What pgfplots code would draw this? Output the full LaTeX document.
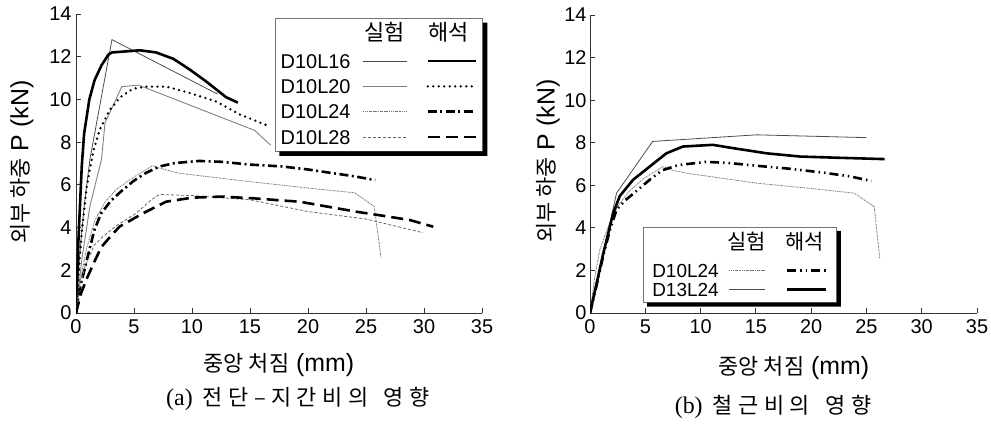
\documentclass[border=0pt]{standalone}
\usepackage{fontspec}
\setmainfont{Liberation Sans}
\newfontfamily\kr{Noto Sans CJK KR}
\newfontfamily\rmserif{Liberation Serif}
\usepackage{pgfplots}
\pgfplotsset{compat=1.18}

\def\spaced#1{\spacedi#1\relax}
\def\spacedi#1{\ifx#1\relax\else#1\hspace{5.5bp}\expandafter\spacedi\fi}

\pgfplotsset{
  exp16/.style={black!70, line width=0.8bp},
  exp20/.style={black!50, line width=0.9bp},
  exp24/.style={black!55, line width=0.8bp, dash pattern=on 1.5bp off 0.8bp on 0.6bp off 0.8bp},
  exp28/.style={black!60, line width=0.8bp, dash pattern=on 3bp off 2bp},
  ana16/.style={black, line width=2.6bp},
  ana20/.style={black, line width=2.6bp, line cap=round, dash pattern=on 0bp off 5.5bp},
  ana24/.style={black, line width=2.6bp, dash pattern=on 9bp off 3.5bp on 2bp off 3.5bp},
  ana24b/.style={black, line width=2.6bp, dash pattern=on 9bp off 4bp on 1.5bp off 4bp on 1.5bp off 4bp},
  ana28/.style={black, line width=2.6bp, dash pattern=on 12bp off 6bp},
  lexpA/.style={legend image code/.code={\draw[fill=none,##1] (0bp,0bp) -- (44bp,0bp);}},
  lanaA/.style={legend image code/.code={\draw[fill=none,##1] (0bp,0bp) -- (48bp,0bp);}},
  lexpB/.style={legend image code/.code={\draw[fill=none,##1] (0bp,0bp) -- (36bp,0bp);}},
  lanaB/.style={legend image code/.code={\draw[fill=none,##1] (0bp,0bp) -- (39bp,0bp);}},
  common/.style={
    scale only axis,
    axis lines*=left,
    xmin=0, xmax=35, ymin=0, ymax=14,
    xtick={0,5,...,35}, ytick={0,2,...,14},
    tick align=inside,
    major tick length=5bp,
    axis line style={black!80, line width=0.8bp},
    tick style={black!80, line width=0.8bp},
    ticklabel style={font=\fontsize{20}{24}\selectfont},
    /pgf/number format/assume math mode=true,
    label style={font=\fontsize{25}{28}\selectfont},
    legend cell align=left,
    legend plot pos=right,
    legend columns=2,
  },
}

\begin{document}
\begin{tikzpicture}[x=1bp,y=1bp]
\path[use as bounding box] (0,0) rectangle (991,428);

% ---------------- (a) ----------------
\begin{axis}[common,
  at={(76bp,115bp)}, anchor=south west,
  width=406bp, height=299bp,
  yticklabel style={xshift=-1bp},
  xticklabel style={yshift=-3.5bp},
  xlabel={{\kr\fontsize{22}{26}\selectfont 중앙 처짐} (mm)},
  ylabel={{\kr\fontsize{22}{26}\selectfont 외부 하중} P (kN)},
  xlabel style={at={(axis description cs:0.5,-0.174)}, anchor=center},
  ylabel style={at={(axis description cs:-0.133,0.505)}, anchor=center},
  legend style={name=legA, at={(axis description cs:0.490,0.9866)}, anchor=north west,
    draw=black!55, line width=0.6bp, fill=white,
    inner xsep=5.5bp, inner ysep=2bp, row sep=1.3bp, column sep=0bp,
    /tikz/column 1/.style={column sep=12bp},
    /tikz/column 2/.style={column sep=18bp},
    /tikz/column 3/.style={column sep=0bp},
    nodes={inner xsep=0bp, inner ysep=0bp, text height=19bp, text depth=5bp,
      font=\fontsize{20}{24}\selectfont}},
]
\addlegendimage{legend image code/.code={\path[draw=none,fill=none] (0bp,-14.5bp) rectangle (44bp,13bp);
  \pgftext[base,at={\pgfqpoint{22bp}{-7bp}}]{\kr\fontsize{22}{26}\selectfont 실험}}}
\addlegendentry{}
\addlegendimage{legend image code/.code={\path[draw=none,fill=none] (0bp,-14.5bp) rectangle (48bp,13bp);
  \pgftext[base,at={\pgfqpoint{21bp}{-7bp}}]{\kr\fontsize{22}{26}\selectfont 해석}}}
\addlegendentry{}

\addplot[exp16, lexpA] coordinates {(0,0) (0.3,2.6) (0.7,5.0) (1.2,7.2) (3.1,12.8) (12.2,10.25)};
\addlegendentry{D10L16}
\addplot[ana16, lanaA] coordinates {(0,0) (0.23,3.7) (0.5,6.9) (0.7,8.4) (1.15,10.0) (1.6,10.9) (2.2,11.6) (2.8,12.1) (3.1,12.2) (4.35,12.25) (5.5,12.3) (6.9,12.2) (8.4,11.9) (9.8,11.4) (11.2,10.85) (12.95,10.1) (13.95,9.85)};
\addlegendentry{}
\addplot[exp20, lexpA] coordinates {(0,0) (0.5,2.5) (1.2,5.0) (2.2,7.2) (2.5,8.9) (3.95,10.6) (5.4,10.67) (15.4,8.55) (16.8,7.85)};
\addlegendentry{D10L20}
\addplot[ana20, lanaA] coordinates {(0,0) (0.25,2.0) (0.49,3.74) (0.92,5.9) (1.5,7.6) (2.06,8.6) (2.9,9.5) (3.8,10.1) (4.9,10.5) (6.1,10.6) (7.8,10.6) (9.8,10.3) (12.1,9.9) (14.1,9.3) (16.4,8.8)};
\addlegendentry{}
\addplot[exp24, lexpA] coordinates {(0,0) (0.4,1.6) (0.9,3.0) (1.6,4.3) (2.5,5.2) (3.5,5.8) (4.8,6.3) (6.6,6.9) (7.1,6.8) (8.8,6.55) (15,6.15) (20,5.85) (24,5.63) (25.7,5.0) (26.3,2.6)};
\addlegendentry{D10L24}
\addplot[ana24, lanaA] coordinates {(0,0) (0.3,1.1) (0.72,2.0) (1.15,2.95) (1.58,3.88) (2.16,4.66) (3.0,5.25) (3.9,5.7) (5.0,6.2) (6.0,6.55) (7.2,6.86) (8.5,7.02) (10.6,7.12) (12.5,7.08) (15,6.95) (17.8,6.86) (20,6.72) (22.1,6.55) (24,6.4) (25.8,6.22)};
\addlegendentry{}
\addplot[exp28, lexpA] coordinates {(0,0) (0.3,1.2) (0.8,2.2) (1.15,2.64) (1.58,3.18) (2.3,3.57) (3.5,4.1) (5.17,4.66) (6.5,5.3) (7.2,5.55) (10,5.5) (15,5.3) (20,4.75) (25,4.4) (29.9,3.76)};
\addlegendentry{D10L28}
\addplot[ana28, lanaA] coordinates {(0,0) (0.43,0.92) (1.0,1.7) (1.72,2.56) (2.2,3.1) (3.0,3.6) (3.74,4.04) (5.75,4.66) (7.76,5.21) (10,5.4) (12.5,5.45) (15.3,5.37) (17.5,5.28) (19.3,5.21) (22,4.95) (24.2,4.74) (26.5,4.55) (28.8,4.35) (30.8,4.04)};
\addlegendentry{}
\end{axis}
\fill[black] ([xshift=4.5bp]legA.south west) -- ([xshift=4.5bp,yshift=-4.5bp]legA.south west)
  -- ([xshift=4.5bp,yshift=-4.5bp]legA.south east) -- ([xshift=4.5bp,yshift=-4.5bp]legA.north east)
  -- ([yshift=-4.5bp]legA.north east) -- (legA.south east) -- cycle;

% ---------------- (b) ----------------
\begin{axis}[common,
  at={(590bp,115bp)}, anchor=south west,
  width=387bp, height=298bp,
  yticklabel style={xshift=0bp},
  xticklabel style={yshift=-3.5bp},
  xlabel={{\kr\fontsize{22}{26}\selectfont 중앙 처짐} (mm)},
  ylabel={{\kr\fontsize{22}{26}\selectfont 외부 하중} P (kN)},
  xlabel style={at={(axis description cs:0.527,-0.1846)}, anchor=center},
  ylabel style={at={(axis description cs:-0.1085,0.51)}, anchor=center},
  legend style={name=legB, at={(axis description cs:0.137,0.2886)}, anchor=north west,
    draw=black!55, line width=0.6bp, fill=white,
    inner xsep=9bp, inner ysep=3bp, row sep=0bp, column sep=0bp,
    /tikz/column 1/.style={column sep=9bp},
    /tikz/column 2/.style={column sep=18bp},
    /tikz/column 3/.style={column sep=0bp},
    nodes={inner xsep=0bp, inner ysep=0bp, text height=16.3bp, text depth=2.7bp,
      font=\fontsize{19}{23}\selectfont}},
]
\addlegendimage{legend image code/.code={\path[draw=none,fill=none] (0bp,-19bp) rectangle (36bp,12bp);
  \pgftext[base,at={\pgfqpoint{18bp}{-7bp}}]{\kr\fontsize{21}{25}\selectfont 실험}}}
\addlegendentry{}
\addlegendimage{legend image code/.code={\path[draw=none,fill=none] (0bp,-19bp) rectangle (39bp,12bp);
  \pgftext[base,at={\pgfqpoint{17bp}{-7bp}}]{\kr\fontsize{21}{25}\selectfont 해석}}}
\addlegendentry{}

\addplot[exp24, lexpB] coordinates {(0,0) (0.4,1.6) (0.9,3.0) (1.6,4.0) (2.5,5.0) (3.5,5.7) (4.8,6.3) (6.6,6.88) (7.5,6.7) (8.7,6.57) (15.06,6.1) (20,5.85) (23.9,5.63) (25.7,5.0) (26.2,2.58)};
\addlegendentry{D10L24}
\addplot[ana24b, lanaB] coordinates {(0,0) (0.6,1.3) (1.2,2.7) (1.8,3.9) (2.4,4.85) (3.2,5.3) (3.9,5.6) (5.4,6.26) (6.5,6.7) (8.0,6.95) (10.5,7.1) (12.5,7.05) (15,6.92) (18,6.78) (21,6.6) (23.5,6.42) (25.45,6.2)};
\addlegendentry{}
\addplot[exp16, lexpB] coordinates {(0,0) (1.2,2.8) (2.4,5.63) (5.66,8.06) (15.06,8.37) (25,8.24)};
\addlegendentry{D13L24}
\addplot[ana16, lanaB] coordinates {(0,0) (0.6,1.4) (1.2,2.8) (2.1,4.7) (2.7,5.5) (3.9,6.26) (5.4,6.88) (6.9,7.5) (8.4,7.82) (11.1,7.9) (13,7.74) (16,7.5) (19,7.35) (22,7.3) (26.65,7.23)};
\addlegendentry{}
\end{axis}
\fill[black] ([xshift=4bp]legB.south west) -- ([xshift=4bp,yshift=-4bp]legB.south west)
  -- ([xshift=4bp,yshift=-4bp]legB.south east) -- ([xshift=4bp,yshift=-4bp]legB.north east)
  -- ([yshift=-4bp]legB.north east) -- (legB.south east) -- cycle;

% captions
\node[anchor=center] at (298,29) {{\rmserif\fontsize{24}{28}\selectfont (a)}\hspace{10bp}{\kr\fontsize{22}{26}\selectfont\spaced{전단–지간비의}\hspace{10bp}\spaced{영향}}};
\node[anchor=center] at (773,21) {{\rmserif\fontsize{24}{28}\selectfont (b)}\hspace{10bp}{\kr\fontsize{22}{26}\selectfont\spaced{철근비의}\hspace{10bp}\spaced{영향}}};
\end{tikzpicture}
\end{document}
